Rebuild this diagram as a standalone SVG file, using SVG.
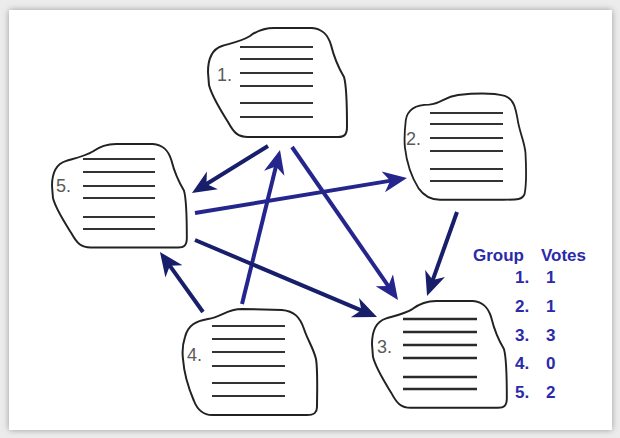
<svg xmlns="http://www.w3.org/2000/svg" width="620" height="438" viewBox="0 0 620 438">
  <defs>
    <filter id="shadow" x="-5%" y="-5%" width="110%" height="110%">
      <feGaussianBlur stdDeviation="3"/>
    </filter>
    <marker id="headNavy" markerUnits="userSpaceOnUse" markerWidth="28" markerHeight="24" viewBox="0 -12 28 24" refX="14" refY="0" orient="auto">
      <path d="M0,-10.5 L24,0 L0,10.5 L7,0 Z" fill="#181f6a"/>
    </marker>
    <marker id="headBlue" markerUnits="userSpaceOnUse" markerWidth="28" markerHeight="24" viewBox="0 -12 28 24" refX="14" refY="0" orient="auto">
      <path d="M0,-10.5 L24,0 L0,10.5 L7,0 Z" fill="#25258e"/>
    </marker>
    <path id="blobA" d="M0,45 C0,30 5,22 14,19 C24,16 34,14 42,9 C50,3 57,1 66,1 L104,1 C115,2 120,8 123,18 C126,30 130,40 136,50 C139,60 139,85 139,100 C139,108 136,110 130,110 L40,110 C30,110 26,106 20,95 C12,82 4,70 1,58 Z"/>
    <path id="blobB" d="M3,30 C6,18 14,14 26,12 C40,10 44,2 60,2 L100,3 C112,4 118,10 122,22 C126,34 131,40 134,52 C136,64 135,88 135,100 C135,106 132,108 125,108 L30,108 C22,108 16,104 12,94 C6,80 2,66 1,52 C0,44 1,36 3,30 Z"/>
    <path id="blobC" d="M2,28 C4,16 14,12 28,12 C42,11 44,4 60,2 C80,0 100,0 112,3 C122,6 124,16 126,26 C128,40 134,50 135,62 C136,80 136,95 134,104 C132,110 126,110 110,110 L40,110 C30,110 22,106 16,98 C8,86 3,72 1,56 C0,46 1,36 2,28 Z"/>
    <style>
      .blob { fill: #ffffff; stroke: #222222; stroke-width: 2; }
      .ln { stroke: #333333; stroke-width: 2; }
      .ln3 { stroke: #2a2a2a; stroke-width: 2.6; }
      .lbl { font-family: "Liberation Sans", Arial, sans-serif; font-size: 18px; fill: #5a5a5a; }
      .navy { stroke: #181f6a; stroke-width: 4; fill: none; marker-end: url(#headNavy); }
      .blue { stroke: #25258e; stroke-width: 4; fill: none; marker-end: url(#headBlue); }
      .tbl { font-family: "Liberation Sans", Arial, sans-serif; font-size: 17px; font-weight: bold; fill: #2a2aaa; }
    </style>
  </defs>

  <rect x="0" y="0" width="620" height="438" fill="#ececec"/>
  <rect x="9" y="10" width="603" height="420" fill="#9a9a9a" filter="url(#shadow)"/>
  <rect x="9" y="10" width="603" height="420" fill="#ffffff"/>

  <g id="node1" transform="translate(208,27)">
    <use href="#blobA" class="blob"/>
    <text class="lbl" x="9" y="54">1.</text>
    <g class="ln">
      <line x1="32" y1="20" x2="105" y2="20"/>
      <line x1="32" y1="32" x2="105" y2="32"/>
      <line x1="32" y1="46" x2="105" y2="46"/>
      <line x1="32" y1="59" x2="105" y2="59"/>
      <line x1="32" y1="76" x2="105" y2="76"/>
      <line x1="32" y1="90" x2="105" y2="90"/>
    </g>
  </g>

  <g id="node2" transform="translate(404,93)">
    <use href="#blobC" class="blob" transform="scale(0.9,0.97)"/>
    <text class="lbl" x="2" y="52">2.</text>
    <g class="ln">
      <line x1="26" y1="20" x2="99" y2="20"/>
      <line x1="26" y1="31" x2="99" y2="31"/>
      <line x1="26" y1="45" x2="99" y2="45"/>
      <line x1="26" y1="58" x2="99" y2="58"/>
      <line x1="26" y1="76" x2="99" y2="76"/>
      <line x1="26" y1="88" x2="99" y2="88"/>
    </g>
  </g>

  <g id="node5" transform="translate(52,143)">
    <use href="#blobA" class="blob" transform="scale(0.97,0.95)"/>
    <text class="lbl" x="4" y="49">5.</text>
    <g class="ln">
      <line x1="31" y1="16" x2="103" y2="16"/>
      <line x1="31" y1="29" x2="103" y2="29"/>
      <line x1="31" y1="43" x2="103" y2="43"/>
      <line x1="31" y1="55" x2="103" y2="55"/>
      <line x1="31" y1="74" x2="103" y2="74"/>
      <line x1="31" y1="86" x2="103" y2="86"/>
    </g>
  </g>

  <g id="node4" transform="translate(182,307)">
    <use href="#blobB" class="blob"/>
    <text class="lbl" x="5" y="54">4.</text>
    <g class="ln">
      <line x1="30" y1="19" x2="103" y2="19"/>
      <line x1="30" y1="32" x2="103" y2="32"/>
      <line x1="30" y1="45" x2="103" y2="45"/>
      <line x1="30" y1="59" x2="103" y2="59"/>
      <line x1="30" y1="76" x2="103" y2="76"/>
      <line x1="30" y1="89" x2="103" y2="89"/>
    </g>
  </g>

  <g id="node3" transform="translate(372,300)">
    <use href="#blobA" class="blob" transform="scale(0.97,0.98)"/>
    <text class="lbl" x="5" y="53">3.</text>
    <g class="ln3">
      <line x1="31" y1="19" x2="105" y2="19"/>
      <line x1="31" y1="32" x2="105" y2="32"/>
      <line x1="31" y1="45" x2="105" y2="45"/>
      <line x1="31" y1="58" x2="105" y2="58"/>
      <line x1="31" y1="77" x2="105" y2="77"/>
      <line x1="31" y1="89" x2="105" y2="89"/>
    </g>
  </g>

  <g id="connectors">
    <line class="navy" x1="268" y1="146" x2="200.5" y2="187.7"/>
    <line class="blue" x1="195" y1="213" x2="397.1" y2="179.6"/>
    <line class="blue" x1="242" y1="304" x2="277.6" y2="159.7"/>
    <line class="navy" x1="203" y1="312" x2="165.8" y2="260.1"/>
    <line class="blue" x1="292" y1="147" x2="392.3" y2="291.8"/>
    <line class="navy" x1="195" y1="240" x2="367.8" y2="313.1"/>
    <line class="navy" x1="457" y1="212" x2="430.4" y2="286.6"/>
  </g>

  <g id="votes-table" class="tbl">
    <text x="473" y="261">Group</text>
    <text x="541" y="261">Votes</text>
    <text x="515" y="283">1.</text><text x="546" y="283">1</text>
    <text x="515" y="312">2.</text><text x="546" y="312">1</text>
    <text x="515" y="341">3.</text><text x="546" y="341">3</text>
    <text x="515" y="369">4.</text><text x="546" y="369">0</text>
    <text x="515" y="398">5.</text><text x="546" y="398">2</text>
  </g>
</svg>
